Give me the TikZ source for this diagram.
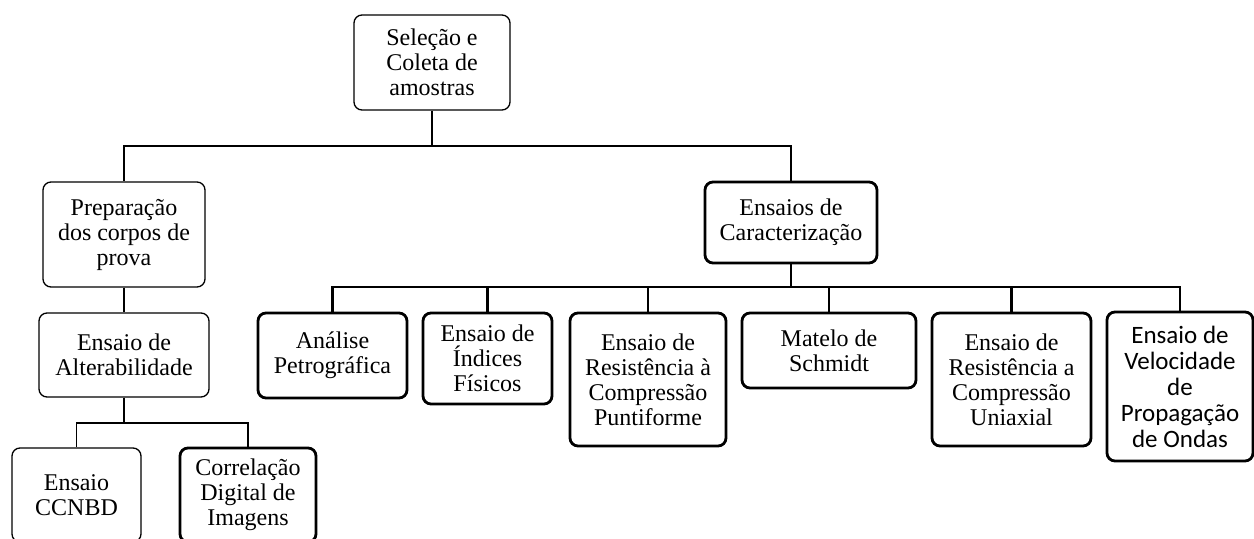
\documentclass[tikz,border=0pt]{standalone}
\usepackage{fontspec}
\setmainfont{Liberation Serif}
\newfontfamily\calibrifont{Carlito}
\usetikzlibrary{positioning}

\begin{document}
\begin{tikzpicture}[
    x=0.5pt, y=-0.5pt,
    thinline/.style={line width=0.65pt},
    thickline/.style={line width=1.4pt},
    block/.style={draw, thinline, rectangle, rounded corners=4pt, align=center, inner sep=1pt, font=\fontsize{12}{12.5}\selectfont},
    boldblock/.style={block, thickline}
]
\useasboundingbox (0,0) rectangle (1254,539);

% Root
\node[block, minimum width=78pt, minimum height=47.5pt] (root) at (432,62.5) {Seleção e\\Coleta de\\amostras};

% Left branch
\node[block, minimum width=81pt, minimum height=52.5pt] (prep) at (124,234.5) {Preparação\\dos corpos de\\prova};
\node[block, minimum width=85pt, minimum height=42pt] (alter) at (124,355) {Ensaio de\\Alterabilidade};
\node[block, minimum width=64.5pt, minimum height=47pt] (ccnbd) at (76.5,495) {Ensaio\\CCNBD};
\node[boldblock, minimum width=68pt, minimum height=47pt] (correl) at (248,495) {Correlação\\Digital de\\Imagens};

% Right branch
\node[boldblock, minimum width=86pt, minimum height=40.5pt] (carac) at (791,222.5) {Ensaios de\\Caracterização};
\node[boldblock, minimum width=74.5pt, minimum height=42.5pt] (analise) at (332.5,355.5) {Análise\\Petrográfica};
\node[boldblock, minimum width=64.5pt, minimum height=45.5pt] (indices) at (487.5,358.5) {Ensaio de\\Índices\\Físicos};
\node[boldblock, minimum width=78pt, minimum height=66.5pt] (punti) at (648,379.5) {Ensaio de\\Resistência à\\Compressão\\Puntiforme};
\node[boldblock, minimum width=87pt, minimum height=37.5pt] (matelo) at (829,350.5) {Matelo de\\Schmidt};
\node[boldblock, minimum width=79.5pt, minimum height=66.5pt] (uniax) at (1011.5,379.5) {Ensaio de\\Resistência a\\Compressão\\Uniaxial};
\node[boldblock, minimum width=73pt, minimum height=74.5pt, font=\calibrifont\fontsize{12.5}{13}\selectfont] (veloc) at (1180,386.5) {Ensaio de\\Velocidade\\de\\Propagação\\de Ondas};

% Bus points
\coordinate (rbus) at (432,146);
\coordinate (abus) at (124,423);
\coordinate (cbus) at (791,287);

% Connectors
\draw[thickline] (root.south) -- (rbus) -| (carac.north);
\draw[thinline] (rbus) -| (prep.north);
\draw[thinline] (prep.south) -- (alter.north);
\draw[thickline] (alter.south) -- (abus) -| (correl.north);
\draw[thinline] (abus) -| (ccnbd.north);
\draw[thickline] (carac.south) -- (cbus);
\foreach \n in {analise, indices, punti, matelo, uniax, veloc}
    \draw[thickline] (cbus) -| (\n.north);

\end{tikzpicture}
\end{document}
